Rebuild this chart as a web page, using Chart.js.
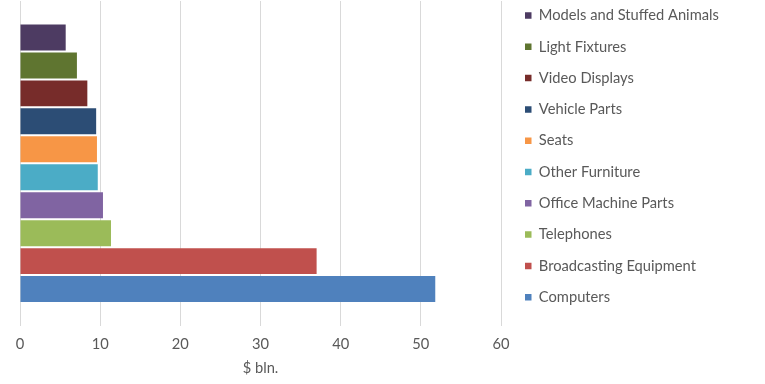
<!DOCTYPE html>
<html><head><meta charset="utf-8">
<script src="https://cdn.jsdelivr.net/npm/chart.js@4.4.0/dist/chart.umd.min.js"></script>
<style>html,body{margin:0;padding:0;background:#fff;overflow:hidden}#wrap{position:relative;width:765px;height:384px}</style>
</head><body><div id="wrap"><canvas id="c" width="765" height="384"></canvas></div>
<script>
const categories = [''];
const seriesNames = ['Models and Stuffed Animals','Light Fixtures','Video Displays','Vehicle Parts','Seats','Other Furniture','Office Machine Parts','Telephones','Broadcasting Equipment','Computers'];
const seriesValues = [5.7, 7.1, 8.4, 9.5, 9.6, 9.7, 10.35, 11.35, 37.0, 51.8];
const seriesColors = ['#4D3B62','#5F7530','#772C2A','#2C4D75','#F79646','#4BACC6','#8064A2','#9BBB59','#C0504D','#4F81BD'];
const xTicks = [0,10,20,30,40,50,60];
const axisTitle = '$ bln.';

const W = 765, H = 384;
const FONT_FAMILY = 'Lato, "Open Sans", sans-serif';
const FS = 14.7;
const TEXT = '#595959';
const LEGEND_PAD = 16.6;
const BOX = 6.5;
const PLOT_LEFT = 20, PLOT_RIGHT = 501, PLOT_TOP = 1;
const LEGEND_BOX_X = 525, LEGEND_FIRST_CENTER = 15.5;

const mctx = document.createElement('canvas').getContext('2d');
mctx.font = FS + 'px ' + FONT_FAMILY;
const maxText = Math.max(...seriesNames.map(s => mctx.measureText(s).width));
const legendWidth = LEGEND_PAD + BOX + FS / 2 + maxText + 10;
const padRight = Math.max(0, W - PLOT_RIGHT - legendWidth);

const legendPlacer = {
  id: 'legendPlacer',
  afterLayout(chart) {
    const lg = chart.legend;
    if (!lg) return;
    const w = lg.width, h = lg.height;
    lg.left = LEGEND_BOX_X - LEGEND_PAD; lg.right = lg.left + w;
    lg.top = LEGEND_FIRST_CENTER - FS / 2 - LEGEND_PAD; lg.bottom = lg.top + h;
  }
};

const datasets = seriesNames.map((name, i) => ({
  label: name,
  data: [seriesValues[i]],
  backgroundColor: seriesColors[i],
  borderWidth: 0,
  categoryPercentage: 280 / 325,
  barPercentage: 26 / 28
}));

new Chart(document.getElementById('c'), {
  type: 'bar',
  data: { labels: categories, datasets },
  plugins: [legendPlacer],
  options: {
    indexAxis: 'y',
    responsive: false,
    animation: false,
    devicePixelRatio: 1,
    layout: { padding: { left: PLOT_LEFT, top: PLOT_TOP, right: padRight, bottom: 4 } },
    plugins: {
      tooltip: { enabled: false },
      legend: {
        position: 'right',
        align: 'start',
        labels: {
          boxWidth: BOX, boxHeight: BOX,
          padding: LEGEND_PAD,
          color: TEXT,
          font: { family: FONT_FAMILY, size: FS }
        }
      }
    },
    scales: {
      y: { display: false },
      x: {
        type: 'linear',
        min: xTicks[0], max: xTicks[xTicks.length - 1],
        afterBuildTicks(scale) { scale.ticks = xTicks.map(v => ({ value: v })); },
        grid: { color: '#d9d9d9', lineWidth: 1, drawTicks: false },
        border: { display: false },
        ticks: { color: TEXT, padding: 10.2, font: { family: FONT_FAMILY, size: FS } },
        title: { display: true, text: axisTitle, color: TEXT, padding: { top: -4.4, bottom: 3.2 }, font: { family: FONT_FAMILY, size: FS } }
      }
    }
  }
});
</script></body></html>
